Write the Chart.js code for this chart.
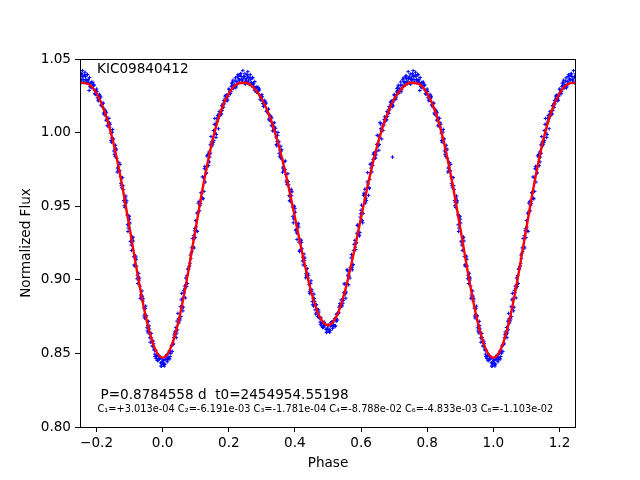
<!DOCTYPE html>
<html>
<head>
<meta charset="utf-8">
<script src="https://cdn.jsdelivr.net/npm/chart.js@4.4.1/dist/chart.umd.min.js"></script>
<style>
  html, body { margin: 0; padding: 0; background: #fff; }
  #wrap { width: 640px; height: 480px; }
</style>
</head>
<body>
<div id="wrap"><canvas id="lc" width="640" height="480"></canvas></div>
<script>
// folded light curve of KIC09840412
const starName = "KIC09840412";
const periodText = "P=0.8784558 d  t0=2454954.55198";
const coefText = "C\u2081=+3.013e-04 C\u2082=-6.191e-03 C\u2083=-1.781e-04 C\u2084=-8.788e-02 C\u2086=-4.833e-03 C\u2088=-1.103e-02";

const xTicks = [-0.2, 0.0, 0.2, 0.4, 0.6, 0.8, 1.0, 1.2];
const yTicks = [0.80, 0.85, 0.90, 0.95, 1.00, 1.05];

// observed flux, four passes, each one value every 0.005 in phase
const phaseStep = 0.005;
const fluxA = [ // from phase 0.0
  0.8461, 0.8414, 0.8462, 0.8456, 0.8516, 0.8501, 0.8561, 0.8626, 0.8676, 0.8660,
  0.8738, 0.8750, 0.8875, 0.8912, 0.9012, 0.8975, 0.9089, 0.9144, 0.9280, 0.9216,
  0.9402, 0.9328, 0.9533, 0.9517, 0.9699, 0.9600, 0.9749, 0.9775, 0.9868, 0.9860,
  0.9940, 0.9945, 1.0057, 1.0077, 1.0125, 1.0140, 1.0151, 1.0219, 1.0234, 1.0216,
  1.0296, 1.0264, 1.0319, 1.0312, 1.0372, 1.0330, 1.0366, 1.0400, 1.0341, 1.0381,
  1.0329, 1.0396, 1.0351, 1.0394, 1.0336, 1.0336, 1.0284, 1.0310, 1.0284, 1.0227,
  1.0258, 1.0177, 1.0193, 1.0147, 1.0160, 1.0081, 1.0099, 1.0015, 1.0008, 0.9910,
  0.9931, 0.9879, 0.9884, 0.9767, 0.9749, 0.9660, 0.9668, 0.9565, 0.9571, 0.9387,
  0.9483, 0.9318, 0.9383, 0.9198, 0.9254, 0.9101, 0.9149, 0.9029, 0.9012, 0.8906,
  0.8922, 0.8871, 0.8854, 0.8831, 0.8763, 0.8738, 0.8687, 0.8711, 0.8690, 0.8643,
  0.8691, 0.8643, 0.8690, 0.8681, 0.8737, 0.8718, 0.8773, 0.8821, 0.8864, 0.8841,
  0.8912, 0.8916, 0.9032, 0.9059, 0.9149, 0.9101, 0.9204, 0.9248, 0.9373, 0.9298,
  0.9473, 0.9387, 0.9581, 0.9555, 0.9728, 0.9620, 0.9759, 0.9777, 0.9864, 0.9849,
  0.9921, 0.9920, 1.0028, 1.0045, 1.0089, 1.0101, 1.0110, 1.0177, 1.0193, 1.0177,
  1.0258, 1.0227, 1.0284, 1.0280, 1.0344, 1.0306, 1.0346, 1.0384, 1.0331, 1.0376,
  1.0329, 1.0401, 1.0361, 1.0410, 1.0356, 1.0360, 1.0312, 1.0342, 1.0319, 1.0264,
  1.0296, 1.0216, 1.0234, 1.0189, 1.0201, 1.0120, 1.0135, 1.0047, 1.0037, 0.9935,
  0.9950, 0.9890, 0.9888, 0.9765, 0.9739, 0.9640, 0.9639, 0.9527, 0.9523, 0.9328,
  0.9412, 0.9236, 0.9290, 0.9094, 0.9139, 0.8975, 0.9012, 0.8882, 0.8855, 0.8740,
  0.8748, 0.8690, 0.8666, 0.8636, 0.8551, 0.8521, 0.8466, 0.8486, 0.8462, 0.8414
];
const fluxB = [ // from phase 0.0025
  0.8423, 0.8458, 0.8489, 0.8466, 0.8479, 0.8556, 0.8569, 0.8636, 0.8638, 0.8734,
  0.8734, 0.8908, 0.8814, 0.8942, 0.8954, 0.9077, 0.9112, 0.9217, 0.9223, 0.9349,
  0.9335, 0.9521, 0.9505, 0.9588, 0.9550, 0.9770, 0.9727, 0.9852, 0.9834, 0.9935,
  0.9933, 1.0096, 0.9987, 1.0096, 1.0113, 1.0126, 1.0195, 1.0212, 1.0255, 1.0246,
  1.0265, 1.0312, 1.0356, 1.0317, 1.0316, 1.0393, 1.0358, 1.0381, 1.0421, 1.0340,
  1.0368, 1.0414, 1.0328, 1.0340, 1.0371, 1.0290, 1.0307, 1.0282, 1.0296, 1.0238,
  1.0198, 1.0205, 1.0200, 1.0134, 1.0086, 1.0105, 1.0012, 1.0067, 0.9969, 0.9981,
  0.9860, 0.9907, 0.9731, 0.9803, 0.9715, 0.9664, 0.9572, 0.9598, 0.9494, 0.9500,
  0.9336, 0.9371, 0.9256, 0.9271, 0.9128, 0.9175, 0.9014, 0.9076, 0.8969, 0.8974,
  0.8852, 0.8903, 0.8768, 0.8777, 0.8781, 0.8698, 0.8709, 0.8686, 0.8697, 0.8662,
  0.8652, 0.8687, 0.8716, 0.8689, 0.8688, 0.8771, 0.8777, 0.8828, 0.8823, 0.8912,
  0.8904, 0.9069, 0.8966, 0.9084, 0.9085, 0.9198, 0.9221, 0.9316, 0.9311, 0.9426,
  0.9400, 0.9574, 0.9548, 0.9622, 0.9574, 0.9785, 0.9733, 0.9851, 0.9827, 0.9920,
  0.9911, 1.0069, 0.9957, 1.0062, 1.0075, 1.0086, 1.0154, 1.0170, 1.0215, 1.0208,
  1.0228, 1.0276, 1.0322, 1.0287, 1.0290, 1.0371, 1.0340, 1.0368, 1.0414, 1.0338,
  1.0370, 1.0421, 1.0341, 1.0358, 1.0393, 1.0286, 1.0337, 1.0316, 1.0322, 1.0275,
  1.0236, 1.0245, 1.0242, 1.0175, 1.0126, 1.0143, 1.0046, 1.0097, 0.9996, 1.0003,
  0.9875, 0.9914, 0.9732, 0.9797, 0.9700, 0.9640, 0.9538, 0.9555, 0.9441, 0.9435,
  0.9259, 0.9283, 0.9157, 0.9162, 0.9007, 0.9044, 0.8872, 0.8924, 0.8808, 0.8804,
  0.8674, 0.8718, 0.8576, 0.8579, 0.8566, 0.8479, 0.8486, 0.8459, 0.8468, 0.8433
];
const fluxC = [ // from phase 0.00125
  0.8452, 0.8426, 0.8486, 0.8471, 0.8462, 0.8549, 0.8560, 0.8646, 0.8607, 0.8772,
  0.8721, 0.8864, 0.8789, 0.8957, 0.8968, 0.9071, 0.9095, 0.9181, 0.9227, 0.9333,
  0.9359, 0.9454, 0.9469, 0.9593, 0.9554, 0.9755, 0.9723, 0.9848, 0.9801, 0.9973,
  0.9921, 1.0056, 0.9967, 1.0117, 1.0144, 1.0128, 1.0178, 1.0195, 1.0250, 1.0221,
  1.0291, 1.0278, 1.0342, 1.0325, 1.0304, 1.0382, 1.0357, 1.0400, 1.0351, 1.0381,
  1.0358, 1.0385, 1.0329, 1.0362, 1.0374, 1.0313, 1.0301, 1.0276, 1.0290, 1.0222,
  1.0243, 1.0181, 1.0207, 1.0150, 1.0093, 1.0113, 1.0051, 1.0026, 1.0029, 0.9940,
  0.9941, 0.9828, 0.9822, 0.9745, 0.9807, 0.9647, 0.9645, 0.9532, 0.9598, 0.9414,
  0.9459, 0.9274, 0.9359, 0.9205, 0.9211, 0.9148, 0.9097, 0.9037, 0.9031, 0.8935,
  0.8932, 0.8822, 0.8796, 0.8804, 0.8797, 0.8713, 0.8703, 0.8678, 0.8698, 0.8643,
  0.8692, 0.8655, 0.8713, 0.8695, 0.8682, 0.8764, 0.8770, 0.8839, 0.8823, 0.8861,
  0.8973, 0.8968, 0.9024, 0.9012, 0.9172, 0.9104, 0.9268, 0.9252, 0.9367, 0.9322,
  0.9507, 0.9451, 0.9615, 0.9538, 0.9651, 0.9682, 0.9791, 0.9819, 0.9845, 0.9870,
  0.9981, 0.9970, 1.0017, 1.0014, 1.0107, 1.0088, 1.0137, 1.0154, 1.0209, 1.0182,
  1.0253, 1.0241, 1.0308, 1.0294, 1.0277, 1.0359, 1.0338, 1.0386, 1.0342, 1.0377,
  1.0360, 1.0391, 1.0341, 1.0379, 1.0395, 1.0338, 1.0330, 1.0309, 1.0325, 1.0260,
  1.0281, 1.0221, 1.0248, 1.0192, 1.0133, 1.0151, 1.0086, 1.0057, 1.0057, 0.9964,
  0.9958, 0.9837, 0.9825, 0.9741, 0.9784, 0.9625, 0.9614, 0.9491, 0.9537, 0.9352,
  0.9386, 0.9200, 0.9264, 0.9098, 0.9093, 0.9019, 0.8957, 0.8888, 0.8871, 0.8767,
  0.8756, 0.8639, 0.8606, 0.8607, 0.8584, 0.8495, 0.8481, 0.8453, 0.8470, 0.8413
];
const fluxD = [ // from phase 0.00375
  0.8433, 0.8480, 0.8443, 0.8501, 0.8515, 0.8514, 0.8607, 0.8626, 0.8719, 0.8706,
  0.8817, 0.8811, 0.8928, 0.8877, 0.9029, 0.9073, 0.9168, 0.9194, 0.9300, 0.9286,
  0.9452, 0.9467, 0.9531, 0.9554, 0.9695, 0.9664, 0.9841, 0.9775, 0.9917, 0.9908,
  1.0014, 0.9997, 1.0097, 1.0026, 1.0121, 1.0183, 1.0172, 1.0248, 1.0231, 1.0261,
  1.0280, 1.0335, 1.0299, 1.0350, 1.0348, 1.0335, 1.0389, 1.0361, 1.0371, 1.0400,
  1.0347, 1.0372, 1.0376, 1.0318, 1.0329, 1.0347, 1.0274, 1.0308, 1.0251, 1.0243,
  1.0212, 1.0219, 1.0144, 1.0157, 1.0118, 1.0047, 1.0064, 1.0037, 0.9920, 1.0001,
  0.9840, 0.9875, 0.9759, 0.9751, 0.9672, 0.9721, 0.9538, 0.9615, 0.9431, 0.9497,
  0.9342, 0.9377, 0.9192, 0.9268, 0.9154, 0.9132, 0.9042, 0.9044, 0.8918, 0.8993,
  0.8831, 0.8873, 0.8829, 0.8750, 0.8744, 0.8742, 0.8675, 0.8713, 0.8665, 0.8672,
  0.8663, 0.8708, 0.8668, 0.8723, 0.8733, 0.8727, 0.8814, 0.8816, 0.8862, 0.8972,
  0.8875, 0.9061, 0.9027, 0.9077, 0.9068, 0.9241, 0.9205, 0.9369, 0.9304, 0.9449,
  0.9404, 0.9588, 0.9522, 0.9665, 0.9627, 0.9727, 0.9775, 0.9862, 0.9828, 0.9981,
  0.9880, 1.0059, 1.0016, 1.0051, 1.0083, 1.0143, 1.0130, 1.0207, 1.0191, 1.0223,
  1.0242, 1.0300, 1.0266, 1.0321, 1.0323, 1.0314, 1.0372, 1.0349, 1.0365, 1.0398,
  1.0351, 1.0381, 1.0390, 1.0337, 1.0352, 1.0374, 1.0305, 1.0342, 1.0288, 1.0281,
  1.0251, 1.0260, 1.0185, 1.0198, 1.0158, 1.0084, 1.0097, 1.0067, 0.9946, 1.0021,
  0.9853, 0.9881, 0.9758, 0.9743, 0.9655, 0.9694, 0.9503, 0.9569, 0.9374, 0.9429,
  0.9263, 0.9287, 0.9101, 0.9155, 0.9031, 0.8998, 0.8897, 0.8889, 0.8754, 0.8821,
  0.8652, 0.8687, 0.8636, 0.8550, 0.8529, 0.8522, 0.8451, 0.8486, 0.8436, 0.8442
];
// one stray point
const strayPhase = [0.695];
const strayFlux = [0.9834];

// fitted curve, every 0.025 in phase from -0.25 to 1.25
const fitStep = 0.025;
const fitStart = -0.25;
const fitFlux = [
  1.0339, 1.0330, 1.0266, 1.0140, 0.9940, 0.9670, 0.9352, 0.9025, 0.8738, 0.8541,
  0.8471, 0.8541, 0.8738, 0.9025, 0.9352, 0.9670, 0.9940, 1.0140, 1.0266, 1.0330,
  1.0339, 1.0306, 1.0228, 1.0101, 0.9921, 0.9690, 0.9423, 0.9151, 0.8912, 0.8748,
  0.8691, 0.8748, 0.8912, 0.9151, 0.9423, 0.9690, 0.9921, 1.0101, 1.0228, 1.0306,
  1.0339, 1.0330, 1.0266, 1.0140, 0.9940, 0.9670, 0.9352, 0.9025, 0.8738, 0.8541,
  0.8471, 0.8541, 0.8738, 0.9025, 0.9352, 0.9670, 0.9940, 1.0140, 1.0266, 1.0330,
  1.0339
];

// phase-folded data is shown again past the 0..1 window
function foldPoints(start, fluxes) {
  const pts = [];
  fluxes.forEach((f, i) => {
    const p = +(start + i * phaseStep).toFixed(5);
    pts.push({ x: p, y: f });
    if (p >= 0.75) pts.push({ x: p - 1, y: f });
    if (p <= 0.25) pts.push({ x: p + 1, y: f });
  });
  return pts;
}

const obsPoints = foldPoints(0, fluxA)
  .concat(foldPoints(0.00125, fluxC))
  .concat(foldPoints(0.0025, fluxB))
  .concat(foldPoints(0.00375, fluxD))
  .concat(strayPhase.map((p, i) => ({ x: p, y: strayFlux[i] })));
const fitPoints = fitFlux.map((f, i) => ({ x: +(fitStart + i * fitStep).toFixed(3), y: f }));

const FONT = "'DejaVu Sans', sans-serif";

const annotate = {
  id: "annotate",
  afterDraw(chart) {
    const { ctx, chartArea: a } = chart;
    ctx.save();
    // full frame like matplotlib spines
    ctx.strokeStyle = "#000";
    ctx.lineWidth = 1;
    ctx.strokeRect(a.left + 0.5, a.top + 0.5, a.right - a.left - 1, a.bottom - a.top);
    ctx.fillStyle = "#000";
    ctx.textBaseline = "alphabetic";
    ctx.textAlign = "left";
    ctx.font = "13.6px " + FONT;
    ctx.fillText(starName, a.left + 17, a.top + 13.5);
    ctx.fillText(periodText, a.left + 20.5, a.bottom - 28.5);
    ctx.font = "9.8px " + FONT;
    ctx.fillText(coefText, a.left + 17.5, a.bottom - 15.5);
    ctx.restore();
  }
};

new Chart(document.getElementById("lc"), {
  type: "scatter",
  data: {
    datasets: [
      {
        label: "fit",
        data: fitPoints,
        showLine: true,
        borderColor: "#ff0000",
        borderWidth: 2.4,
        pointRadius: 0,
        cubicInterpolationMode: "monotone",
        order: 0
      },
      {
        label: "data",
        data: obsPoints,
        backgroundColor: "#0000ff",
        borderColor: "#0000ff",
        pointStyle: "cross",
        pointRadius: 1.8,
        borderWidth: 1,
        order: 1
      }
    ]
  },
  options: {
    responsive: false,
    animation: false,
    devicePixelRatio: 1,
    layout: { padding: { left: 0, right: 64, top: 59, bottom: 8 } },
    plugins: { legend: { display: false }, tooltip: { enabled: false } },
    scales: {
      x: {
        type: "linear",
        min: -0.25,
        max: 1.25,
        afterBuildTicks: (s) => { s.ticks = xTicks.map(v => ({ value: v })); },
        afterFit: (s) => { s.height = 45; },
        grid: { drawOnChartArea: false, drawTicks: true, tickLength: 5, color: "#000" },
        border: { display: false },
        ticks: {
          color: "#000",
          padding: 3,
          font: { family: FONT, size: 13.6 },
          callback: (v) => (v < 0 ? "\u2212" : "") + Math.abs(v).toFixed(1)
        },
        title: { display: true, text: "Phase", color: "#000", font: { family: FONT, size: 13.6 }, padding: { top: 3, bottom: 0 } }
      },
      y: {
        type: "linear",
        min: 0.80,
        max: 1.05,
        afterBuildTicks: (s) => { s.ticks = yTicks.map(v => ({ value: v })); },
        afterFit: (s) => { s.width = 80; },
        grid: { drawOnChartArea: false, drawTicks: true, tickLength: 5, color: "#000" },
        border: { display: false },
        ticks: {
          color: "#000",
          padding: 4,
          font: { family: FONT, size: 13.6 },
          callback: (v) => v.toFixed(2)
        },
        title: { display: true, text: "Normalized Flux", color: "#000", font: { family: FONT, size: 13.6 }, padding: { top: 18, bottom: 0 } }
      }
    }
  },
  plugins: [annotate]
});
</script>
</body>
</html>
